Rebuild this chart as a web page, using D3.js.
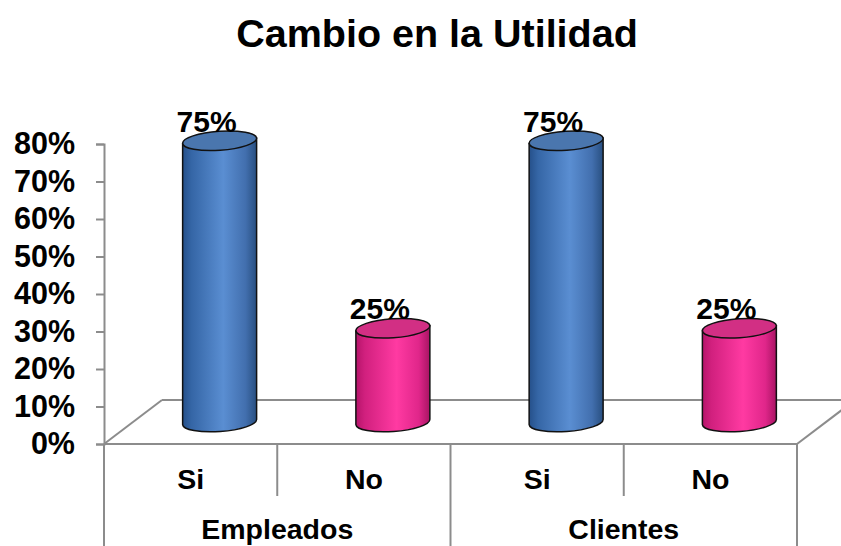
<!DOCTYPE html>
<html>
<head>
<meta charset="utf-8">
<script src="https://cdn.jsdelivr.net/npm/d3@7"></script>
<style>
  html, body { margin: 0; padding: 0; background: #fff; }
  svg { display: block; font-family: Arial, "Liberation Sans", sans-serif; }
</style>
</head>
<body>
<script>
// donnees du graphique
const grupos = ["Empleados", "Clientes"];
const respuestas = ["Si", "No"];
const valores = [0.75, 0.25, 0.75, 0.25];
const etiquetas = ["75%", "25%", "75%", "25%"];
const ticksY = [0, 0.1, 0.2, 0.3, 0.4, 0.5, 0.6, 0.7, 0.8];
const ticksTexto = ["0%", "10%", "20%", "30%", "40%", "50%", "60%", "70%", "80%"];

const largeur = 841, hauteur = 546;
const gris = "#8c8c8c";

const canevas = d3.select("body").append("svg")
    .attr("width", largeur)
    .attr("height", hauteur);

// categories : Empleados|Si, Empleados|No, ...
const cats = [];
grupos.forEach(g => respuestas.forEach(r => cats.push(g + "|" + r)));
const data = cats.map((c, i) => ({ cat: c, grupo: c.split("|")[0], resp: c.split("|")[1], v: valores[i], lab: etiquetas[i] }));

// echelles
const x = d3.scaleBand().domain(cats).range([104, 797]).padding(0);
const y = d3.scaleLinear().domain([0, 0.8]).range([444, 144]);
const prof = { dx: 58, dy: -44 };   // profondeur du sol 3D

// degradés
const defs = canevas.append("defs");
function degrade(id, stops) {
  const g = defs.append("linearGradient").attr("id", id)
      .attr("x1", "0%").attr("x2", "100%").attr("y1", "0%").attr("y2", "0%");
  stops.forEach(s => g.append("stop").attr("offset", s[0]).attr("stop-color", s[1]));
}
degrade("gSi", [["0%", "#25508a"], ["12%", "#3566a6"], ["55%", "#5a8ed2"], ["85%", "#426fae"], ["100%", "#284f80"]]);
degrade("gNo", [["0%", "#b5146a"], ["12%", "#d1207e"], ["55%", "#ff3aa2"], ["85%", "#e0268a"], ["100%", "#a81463"]]);
const topColor = { Si: "#4a76ae", No: "#d22f84" };

// titre
canevas.append("text")
    .attr("x", 437).attr("y", 47)
    .attr("text-anchor", "middle")
    .style("font-size", "39.5px").style("font-weight", "bold")
    .text("Cambio en la Utilidad");

// sol 3D
const sol = canevas.append("g").attr("fill", "none").attr("stroke", gris).attr("stroke-width", 2);
const x0 = x.range()[0], x1 = x.range()[1], y0 = y(0);
sol.append("line").attr("x1", x0 + prof.dx).attr("y1", y0 + prof.dy).attr("x2", x1 + prof.dx).attr("y2", y0 + prof.dy);
sol.append("line").attr("x1", x0).attr("y1", y0).attr("x2", x0 + prof.dx).attr("y2", y0 + prof.dy);
sol.append("line").attr("x1", x1).attr("y1", y0).attr("x2", x1 + prof.dx).attr("y2", y0 + prof.dy);
sol.append("line").attr("x1", x0).attr("y1", y0).attr("x2", x1).attr("y2", y0);

// axe Y
const axeY = canevas.append("g")
    .attr("transform", `translate(${x0},0)`)
    .call(d3.axisLeft(y).tickValues(ticksY).tickSize(8).tickPadding(21)
        .tickFormat((d, i) => ticksTexto[i]));
axeY.select(".domain").attr("stroke", gris).attr("stroke-width", 2);
axeY.selectAll(".tick line").attr("stroke", gris).attr("stroke-width", 2);
axeY.selectAll(".tick text")
    .attr("fill", "#000")
    .style("font-size", "30.5px").style("font-weight", "bold")
    .style("font-family", "Arial, 'Liberation Sans', sans-serif");

// separateurs des categories
const seps = [];
cats.forEach((c, i) => seps.push({ x: x(c), full: i % 2 === 0 }));
seps.push({ x: x1, full: true });
canevas.append("g").selectAll("line").data(seps).enter().append("line")
    .attr("x1", d => d.x).attr("x2", d => d.x)
    .attr("y1", y0).attr("y2", d => d.full ? hauteur : 496)
    .attr("stroke", gris).attr("stroke-width", 2);

// cylindres
const rx = x.bandwidth() * 0.214, ry = 9.5, tilt = -4;
const t = tilt * Math.PI / 180;
const ox = rx * Math.cos(t), oy = rx * Math.sin(t);

const barres = canevas.append("g").selectAll("g").data(data).enter().append("g");
barres.each(function (d) {
  const g = d3.select(this);
  const cx = x(d.cat) + x.bandwidth() / 2 + prof.dx / 2;
  const yb = y(0) + prof.dy / 2;
  const yt = y(d.v) + prof.dy / 2;
  g.append("path")
      .attr("d", `M${cx - ox},${yt - oy} L${cx - ox},${yb - oy} A${rx},${ry} ${tilt} 0 0 ${cx + ox},${yb + oy} L${cx + ox},${yt + oy} Z`)
      .attr("fill", `url(#g${d.resp})`)
      .attr("stroke", "#111").attr("stroke-width", 1.5);
  g.append("ellipse")
      .attr("cx", cx).attr("cy", yt).attr("rx", rx).attr("ry", ry)
      .attr("transform", `rotate(${tilt},${cx},${yt})`)
      .attr("fill", topColor[d.resp])
      .attr("stroke", "#111").attr("stroke-width", 1.5);
  g.append("text")
      .attr("x", cx - 13).attr("y", yt - 9)
      .attr("text-anchor", "middle")
      .style("font-size", "30px").style("font-weight", "bold")
      .text(d.lab);
});

// etiquettes X
canevas.append("g").selectAll("text").data(data).enter().append("text")
    .attr("x", d => x(d.cat) + x.bandwidth() / 2)
    .attr("y", 489)
    .attr("text-anchor", "middle")
    .style("font-size", "28.5px").style("font-weight", "bold")
    .text(d => d.resp);

canevas.append("g").selectAll("text").data(grupos).enter().append("text")
    .attr("x", g => (x(g + "|Si") + x(g + "|No") + x.bandwidth()) / 2)
    .attr("y", 539)
    .attr("text-anchor", "middle")
    .style("font-size", "28.5px").style("font-weight", "bold")
    .text(g => g);
</script>
</body>
</html>
